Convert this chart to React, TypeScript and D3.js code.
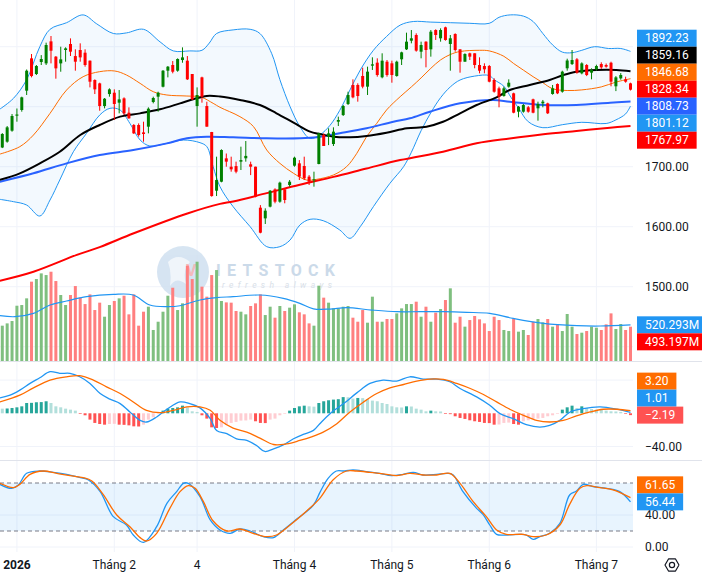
import React from "react";
import * as d3 from "d3";

// ── Dữ liệu phiên (130 phiên, cuối 2025 → giữa tháng 7/2026) ──────────
const opens = [
  1732, 1741.7, 1760, 1785, 1794.5, 1826.7, 1880.6, 1854.5, 1874.5, 1872.2,
  1908.9, 1883.4, 1872.2, 1894.5, 1904.5, 1884.4, 1894.5, 1890, 1876.7, 1844.5,
  1838.9, 1801.1, 1821.1, 1823.3, 1806.7, 1813.9, 1790, 1769.5, 1769.5, 1757.2,
  1766.7, 1807.8, 1816.7, 1833.3, 1860, 1869.5, 1860, 1877.8, 1876.7, 1854.5,
  1801.1, 1848.9, 1801.1, 1757.8, 1660, 1675, 1713.9, 1700, 1701, 1708.4,
  1714, 1704, 1700, 1631.7, 1613.9, 1633.4, 1662.2, 1641.7, 1662.2, 1669.5,
  1701.7, 1705.6, 1701.2, 1683.4, 1677.8, 1704.5, 1752.8, 1750, 1737.8, 1775,
  1786.1, 1804.5, 1836.2, 1836.2, 1851.2, 1833.4, 1868.4, 1873.4, 1849, 1875,
  1872.3, 1851.2, 1879, 1895.6, 1910, 1919.5, 1891.7, 1908.4, 1895.6, 1927.8,
  1914, 1932.3, 1904.5, 1921.2, 1895.6, 1875, 1889, 1889, 1869.5, 1867.8,
  1867.8, 1844.5, 1830.6, 1817.8, 1833.4, 1822.3, 1791.7, 1791.7, 1799, 1812.3,
  1797.3, 1805.6, 1805.6, 1821.2, 1837.8, 1825, 1864, 1871.1, 1878.9, 1855.6,
  1869.5, 1856.7, 1862.2, 1871.1, 1869.5, 1873.3, 1834, 1847.2, 1845.6, 1838.9,
];
const highs = [
  1756, 1767.8, 1787.8, 1797, 1816.7, 1862, 1887.8, 1869.5, 1886, 1906.7,
  1917.8, 1884.4, 1900, 1899, 1913.9, 1895.6, 1905.6, 1895.6, 1877, 1845.6,
  1840, 1814.5, 1830.6, 1828.9, 1827.8, 1815.6, 1798.9, 1771.1, 1772.2, 1775,
  1798.9, 1816.7, 1825, 1861.1, 1867.8, 1876.1, 1880.6, 1898.9, 1884.4, 1854.5,
  1832.2, 1850, 1808.3, 1758, 1716.7, 1729, 1722, 1716.7, 1708.4, 1733.4,
  1742.8, 1708.4, 1700, 1636, 1630.6, 1661, 1664, 1675, 1664, 1677.8,
  1716.7, 1711, 1716.7, 1686, 1691.7, 1756.7, 1755.6, 1764, 1765.6, 1783.4,
  1802.8, 1825, 1845.6, 1839, 1865, 1866.7, 1882.3, 1880.6, 1889, 1877.8,
  1876.7, 1876.7, 1891.7, 1923.4, 1927.8, 1922.3, 1908.4, 1909, 1927.8, 1929,
  1930.6, 1933.4, 1919.5, 1922.3, 1895.6, 1889, 1890, 1889, 1882.3, 1872.3,
  1869.5, 1847.3, 1833.4, 1833.4, 1845.6, 1823.4, 1801.2, 1804.5, 1801.2, 1813.4,
  1808.4, 1811.2, 1806.7, 1836.2, 1838.9, 1860, 1880, 1894.5, 1881, 1874,
  1871, 1864, 1870, 1874, 1872, 1875, 1851, 1856, 1850, 1840,
];
const lows = [
  1731, 1740, 1758.3, 1775, 1791.7, 1819.5, 1848.9, 1852.8, 1869.5, 1869.5,
  1872.2, 1846.7, 1858.3, 1875, 1884.5, 1860, 1875, 1866.7, 1832.2, 1821.1,
  1793.3, 1797.2, 1816.7, 1777.8, 1788.9, 1786.1, 1780, 1754.5, 1750, 1741.7,
  1755.6, 1805.6, 1791.7, 1832.2, 1848.9, 1855.6, 1858.3, 1873.3, 1844.5, 1811.1,
  1766.7, 1806.7, 1766.7, 1650, 1651.1, 1674, 1700, 1691.7, 1689, 1694.5,
  1708.4, 1686, 1648.9, 1589, 1604.5, 1632.2, 1639, 1640, 1639, 1666.7,
  1700, 1677.8, 1677.8, 1669.5, 1666.7, 1704, 1734.5, 1736, 1734.5, 1767.8,
  1784.5, 1802.8, 1814, 1808.4, 1830.6, 1819.5, 1861.2, 1850, 1847.3, 1850,
  1840, 1850, 1869.5, 1894.5, 1905.6, 1891.7, 1880.6, 1865.6, 1883.4, 1911.2,
  1908.4, 1910, 1860, 1891.7, 1856.7, 1875, 1877.8, 1864, 1855.6, 1855.6,
  1840.6, 1823.4, 1799, 1816.7, 1831.7, 1789, 1782.3, 1790, 1790, 1789,
  1776.7, 1799, 1787.8, 1820, 1821, 1823.4, 1860, 1869.5, 1855, 1854,
  1851, 1845.6, 1860, 1863, 1865, 1834, 1826, 1845, 1840, 1827,
];
const closes = [
  1754.5, 1765.6, 1784.5, 1787, 1815.6, 1860, 1851.1, 1867.8, 1879.5, 1902.8,
  1893.3, 1863.9, 1878.9, 1897.2, 1891.7, 1875, 1882.2, 1869.5, 1841.7, 1828.9,
  1801.1, 1813.3, 1828.9, 1804.5, 1812.2, 1788.9, 1780.6, 1755.6, 1752.8, 1754.5,
  1796.7, 1814.5, 1823.3, 1860, 1866.7, 1858.3, 1879.5, 1882.2, 1845.6, 1812.2,
  1819.5, 1816.7, 1766.7, 1651.1, 1677.8, 1727.8, 1708.4, 1695.6, 1691.7, 1711,
  1718, 1700, 1650, 1590, 1626.7, 1660, 1641.7, 1673.4, 1644.5, 1675,
  1715, 1683.4, 1680.6, 1675, 1679, 1755.6, 1734.5, 1755.6, 1758.4, 1777.8,
  1801.2, 1819.5, 1815.6, 1817.8, 1833.4, 1858.4, 1870.6, 1852.8, 1876.7, 1852.8,
  1852.8, 1875, 1890.6, 1908.4, 1914, 1893.4, 1902.8, 1894.5, 1925, 1919.5,
  1927.8, 1911.2, 1914, 1894.5, 1875, 1887.8, 1883.4, 1869.5, 1860, 1862.3,
  1841.7, 1825, 1816.7, 1830.6, 1840, 1790, 1800, 1802.8, 1791.7, 1790,
  1804.5, 1808.4, 1789, 1830.6, 1822.3, 1858.4, 1877, 1877.8, 1856.7, 1872.2,
  1852.8, 1861.1, 1867.8, 1865.6, 1866.7, 1841.7, 1848.9, 1852.8, 1841.7, 1828.34,
];
// khối lượng, triệu cp
const volumes = [
  508, 541, 575, 795, 805, 901, 1141, 1179, 1260, 1236,
  1284, 1150, 949, 805, 949, 1078, 911, 819, 958, 733,
  839, 637, 805, 863, 901, 939, 671, 958, 508, 709,
  781, 446, 565, 709, 939, 1054, 733, 829, 1371, 1179,
  1428, 1069, 925, 1236, 1308, 863, 843, 839, 719, 709,
  671, 791, 829, 958, 661, 781, 623, 791, 719, 767,
  815, 700, 671, 541, 508, 1083, 911, 839, 757, 757,
  781, 791, 623, 565, 733, 551, 925, 565, 565, 604,
  604, 685, 757, 819, 819, 853, 637, 781, 565, 695,
  747, 877, 1045, 551, 637, 494, 589, 647, 599, 541,
  431, 637, 589, 446, 431, 604, 422, 446, 374, 565,
  604, 556, 604, 494, 527, 431, 676, 494, 388, 407,
  431, 494, 479, 446, 527, 685, 460, 532, 446, 493.197,
];
const macdHist = [
  5.6, 5.8, 6.4, 7.2, 8.4, 12.4, 12.6, 13.3, 13.5, 14.5,
  12.4, 8.4, 7.2, 5.6, 4.4, 3.2, -0.8, -2.4, -7.6, -11.6,
  -12.9, -13.7, -12.9, -12.7, -13.7, -13.9, -14.5, -15.7, -15.9, -13.7,
  -7.6, -4.8, -0.8, 3.2, 5.6, 6.4, 7.2, 9.2, 7.2, 2.4,
  1.6, -2.4, -6.4, -16.9, -17.7, -16.9, -13.7, -11.6, -10.4, -8.8,
  -8.6, -7.6, -9.6, -11.6, -11.8, -7.6, -6.4, -2.4, -0.8, 3.2,
  6.4, 8.4, 9.2, 8.4, 8.0, 12.4, 14.5, 15.7, 16.5, 17.0,
  19.5, 19.3, 17.7, 18.5, 18.3, 17.3, 15.3, 14.5, 12.4, 11.2,
  8.4, 7.2, 7.0, 8.4, 8.2, 5.6, 4.4, 2.4, 3.2, 2.4,
  2.2, -0.8, -1.0, -3.6, -5.6, -6.8, -8.4, -9.6, -10.4, -11.6,
  -11.8, -13.7, -13.5, -11.6, -11.2, -12.9, -13.7, -9.6, -8.4, -7.6,
  -6.4, -5.6, -3.6, -2.4, -0.8, 4.4, 7.2, 9.2, 6.4, 8.4,
  6.4, 5.2, 4.4, 4.2, 3.2, 2.4, 2.2, 1.6, -0.8, -2.19,
];

type Pt = [number, number]; // [chỉ số phiên, giá trị]

const bbUpper: Pt[] = [
  [-0.5, 1796], [2.3, 1814], [5, 1845], [7.7, 1900], [9.8, 1929], [13.2, 1940], [16.6, 1953],
  [19.4, 1938], [22.8, 1922], [25.5, 1923], [29, 1929], [32.4, 1908], [35.1, 1893], [38.5, 1893],
  [41, 1894], [42.5, 1906], [44, 1922], [47.4, 1928], [50.9, 1929], [52.9, 1922], [55.3, 1889],
  [57, 1845], [59.1, 1800], [61.1, 1767], [63.2, 1747], [65.2, 1753], [67.3, 1769], [69.3, 1794],
  [71.4, 1828], [73.5, 1861], [76.2, 1894], [78.9, 1917], [81.7, 1936], [84.4, 1942], [88, 1941],
  [92, 1940], [96, 1939], [100, 1939], [102, 1949], [104.3, 1953], [107, 1951], [109, 1942],
  [111, 1922], [113, 1903], [115, 1891], [117, 1890], [119, 1894], [121.6, 1900], [124.5, 1897],
  [127, 1897], [129, 1892.23],
];
const bbMiddle: Pt[] = [
  [-0.5, 1721], [3.6, 1733.4], [6.4, 1752.8], [9.8, 1788.9], [13.2, 1827.8], [16.6, 1850],
  [20, 1858.4], [23.1, 1859.5], [25.5, 1852.8], [28.3, 1838.9], [31, 1825], [33.8, 1819.5],
  [37.9, 1817.8], [40.8, 1816], [43.3, 1805.6], [44.7, 1799], [48.8, 1783.4], [51.6, 1766.7],
  [54.3, 1727.8], [57, 1705.6], [59.8, 1689], [62.5, 1677.8], [64.6, 1679], [68, 1686.2],
  [70.7, 1700], [72.8, 1722.3], [74.8, 1750], [76.9, 1772.3], [78.9, 1794.5], [81.7, 1816.7],
  [84, 1833], [86, 1848], [88, 1864], [90, 1878], [92, 1887], [94, 1892], [98, 1894], [100, 1893],
  [103, 1884], [105, 1872], [107, 1861], [109, 1850], [111, 1840], [113, 1830], [116, 1827],
  [119, 1828], [123, 1833], [126, 1841], [129, 1846.68],
];
const bbLower: Pt[] = [
  [-0.5, 1645.6], [2.3, 1641.7], [5, 1636.1], [7.7, 1617.8], [9.8, 1644.5], [11.8, 1677.8],
  [14.6, 1725], [17.3, 1755.6], [20, 1786.1], [22.1, 1797.3], [24.2, 1794.5], [26.2, 1772.2],
  [28.3, 1744.5], [30.3, 1734.5], [33.8, 1738.9], [37.2, 1744.5], [40.6, 1740], [42, 1733.4],
  [43.3, 1700], [44.7, 1666.7], [47.4, 1633.4], [50.9, 1600], [54.3, 1566.7], [57, 1566.7],
  [59.1, 1577.8], [61.1, 1602.8], [63.2, 1612.3], [65.9, 1610], [69.3, 1594.5], [71.4, 1580.6],
  [73.5, 1600], [76.2, 1633.4], [79.6, 1672.3], [82.4, 1700], [84, 1724], [86, 1760], [88, 1790],
  [90, 1815], [92, 1833], [94, 1844.5], [97, 1851], [100, 1852], [101, 1845], [103, 1834],
  [104.5, 1815], [106, 1798], [108, 1775], [111, 1765], [115, 1770], [119, 1774], [124, 1772],
  [126, 1778], [128, 1788], [129, 1801.12],
];
const maBlack: Pt[] = [
  [-0.5, 1678], [3.6, 1689], [7.7, 1705.6], [11.8, 1725], [16, 1752.8], [20, 1769.5],
  [24.2, 1783.4], [28.3, 1788.9], [32.4, 1795.6], [36.5, 1805.6], [39.2, 1812.3], [42, 1818],
  [44.7, 1817], [48.8, 1811.2], [52.9, 1802.8], [56.3, 1789], [59.8, 1773.4], [63.2, 1758.4],
  [65.2, 1754.5], [68, 1750], [71.4, 1749], [74.8, 1751.2], [78.9, 1756.7], [83.1, 1763.9],
  [87.1, 1766.7], [90.5, 1775], [94, 1789], [97.4, 1802.8], [101.5, 1815.6], [104.2, 1827.8],
  [108.3, 1836.2], [112.4, 1844.5], [115.2, 1852.8], [117.9, 1858.4], [122, 1861.2],
  [126.1, 1861.2], [129, 1859.16],
];
const maBlue: Pt[] = [
  [-0.5, 1675], [6.4, 1689], [13.2, 1705.6], [20, 1719.5], [26.9, 1727.8], [33.8, 1738.9],
  [37.9, 1747.3], [42, 1750], [47.4, 1749], [54.3, 1747.3], [61.1, 1747.3], [64.6, 1749],
  [69.3, 1755.6], [74.8, 1764], [80.3, 1775], [83.7, 1780.6], [87.8, 1791.7], [94, 1805.6],
  [100.8, 1811.2], [104.2, 1808.4], [111.1, 1802.8], [117.9, 1802.8], [124.8, 1806.7],
  [129, 1808.73],
];
const maRed: Pt[] = [
  [-0.5, 1510], [6.4, 1525], [15.3, 1553], [20, 1566], [27, 1589], [38, 1622], [44.7, 1638],
  [47.4, 1642], [54.3, 1656], [61.1, 1670], [68, 1683], [74.8, 1697], [81.7, 1711],
  [90.5, 1725], [97.4, 1739], [104.2, 1747], [111.1, 1754], [117.9, 1759.5], [124.8, 1765],
  [129, 1767.97],
];
const volumeMA: Pt[] = [
  [-0.5, 652], [2.6, 637], [6.4, 685], [9.8, 805], [13.2, 863], [17.3, 925], [22.8, 958],
  [26.9, 949], [30.3, 805], [33.8, 781], [36.5, 795], [40.6, 877], [44, 911], [47.4, 925],
  [52.9, 949], [57.7, 901], [61.1, 829], [63.9, 750], [67.3, 747], [70.7, 767], [75.9, 733],
  [81, 709], [85.8, 709], [90.6, 709], [95.4, 700], [100.1, 685], [104.9, 613], [111.1, 541],
  [118, 508], [122.8, 503], [129, 520.293],
];
const macdLine: Pt[] = [
  [-0.5, 18.6], [1.6, 21.8], [3.6, 27.9], [5.7, 36], [7.7, 42.8], [9.8, 50.1], [11.8, 48.1],
  [13.9, 48.1], [15.9, 44], [18, 36], [20.1, 23.8], [22.1, 17], [24.2, 11.7], [26.2, 1.6],
  [28.3, -8.5], [29.6, -10.5], [31.7, -4.4], [33.8, 4.9], [36.5, 13.7], [38.5, 11.7],
  [40.6, 6.5], [42.7, -6.5], [44, -20.6], [46.1, -24.6], [48.1, -30.7], [50.2, -32.7],
  [52.2, -38.8], [53.9, -46], [55.7, -42.8], [57.7, -38], [59.8, -30.7], [61.8, -25.4],
  [63.9, -20.6], [65.2, -12.5], [67.3, -0.4], [70.1, 11.7], [72.8, 24.6], [75.5, 36],
  [78.2, 40], [81, 38.8], [83.7, 44], [86.4, 41.2], [89.2, 41.2], [91.9, 38], [94, 29.9],
  [97.4, 19.8], [100.1, 9.7], [102.2, -0.4], [104.9, -6.5], [107.6, -13.7], [110.4, -16.6],
  [112.4, -14.5], [114.5, -8.5], [116.6, 1.6], [119.3, 5.7], [122.8, 7.7], [126.2, 4.9],
  [129, 1.01],
];
const macdSignal: Pt[] = [
  [-0.5, 13.7], [3.6, 21.8], [6.4, 30.7], [9.8, 40], [13.2, 44], [15.9, 45.3], [18.7, 40],
  [21.4, 31.9], [24.2, 23.8], [26.9, 13.7], [29.6, 3.6], [32.4, 0.8], [35.1, 3.6], [37.9, 7.7],
  [40.6, 7.7], [42.7, 3.6], [44.7, -8.5], [47.4, -17.8], [50.2, -22.6], [52.9, -29.9],
  [55.7, -37.6], [58.4, -36.8], [61.1, -32.7], [63.5, -28.3], [65.9, -22.6], [68.7, -12.5],
  [71.4, 1.6], [74.2, 13.7], [76.9, 23.8], [79.6, 30.7], [82.4, 34.7], [85.1, 38.8],
  [87.8, 41.2], [90.6, 40.8], [93.3, 36], [96.1, 29.9], [98.8, 22.6], [101.5, 13.7],
  [104.2, 4.9], [107, -2.4], [109.7, -8.5], [112.4, -10.5], [115.2, -8.5], [117.9, -3.2],
  [120.7, 1.6], [123.4, 4.9], [126.2, 4.9], [129, 3.2],
];
const stochK: Pt[] = [
  [-0.5, 78.3], [1.9, 73.3], [3.3, 77.5], [5, 92.1], [7.7, 95], [10.5, 93.3], [13.2, 90.8],
  [16, 86.7], [17.7, 83.8], [20.1, 69.2], [22.8, 37.9], [25.5, 27.5], [26.9, 15], [29, 5.8],
  [31.7, 25.4], [33.8, 54.6], [35.8, 69.2], [37.2, 79.6], [38.2, 79.6], [40.6, 62.9],
  [42.7, 33.8], [44.7, 21.3], [46.8, 17.1], [48.8, 22.5], [50.9, 20], [53.6, 12.9],
  [55.7, 11.7], [57.7, 21.3], [59.8, 31.7], [63.9, 52.5], [65.2, 68], [66.9, 85.8], [68.6, 95],
  [70.3, 95], [72, 96.3], [74.8, 94.2], [77.5, 92.1], [79.9, 89.2], [82.3, 90.8], [84.4, 93.3],
  [86.4, 90], [89.2, 90.8], [91.5, 92.1], [92.6, 90], [94.6, 69.2], [97.4, 48.3], [98.7, 40.8],
  [100.1, 27.5], [101.5, 15.8], [103.5, 15], [106.3, 15.8], [107.6, 15], [109, 9.6],
  [110.4, 12.9], [112.4, 17.1], [114.5, 29.6], [116.5, 65], [117.9, 70], [119.3, 78.3],
  [121.3, 75.4], [124.1, 73.3], [126.8, 69.2], [129, 56.44],
];
const stochD: Pt[] = [
  [-0.5, 79.6], [2.3, 74.2], [3.6, 78.3], [5.7, 90.8], [8.4, 95], [11.2, 92.1], [13.9, 89.2],
  [16.6, 86.7], [18.4, 82.5], [20.7, 65.8], [23.5, 40], [26.2, 25.4], [28.3, 11.7], [29.6, 7.5],
  [31.7, 17.1], [34.4, 48.3], [36.5, 69.2], [38.2, 76.7], [39.6, 73.3], [41.3, 56.7],
  [43.3, 32.5], [46.1, 20], [48.8, 22.5], [51.5, 17.1], [54.3, 12.9], [56.3, 15], [59.1, 27.5],
  [62.5, 45], [65.2, 60.8], [67.9, 83.8], [70.7, 95], [72.7, 95], [75.5, 93.3], [78.9, 90.8],
  [80.9, 89.2], [83.7, 92.1], [86.4, 90], [89.2, 90], [91.9, 92.1], [94, 79.6], [96.7, 56.7],
  [99.4, 37.9], [101.5, 21.3], [103.5, 15.8], [107, 15.8], [109, 12.9], [111.7, 15],
  [114.5, 27.5], [116.5, 53.3], [118.6, 73.3], [120, 76.7], [122.7, 74.2], [125.4, 71.3],
  [129, 61.65],
];

const timeTicks = [3, 23, 40, 60, 80, 100, 122];
const timeLabels = ["2026", "Tháng 2", "4", "Tháng 4", "Tháng 5", "Tháng 6", "Tháng 7"];
const priceTicks = [1400, 1500, 1600, 1700, 1800, 1900];
const macdTicks = [-40, 40];
const stochTicks = [0, 40, 80];
const stochBands = [20, 80];

// ── helpers ──────────────────────────────────────────────────────
const FONT = "Roboto, 'Noto Sans', sans-serif";
let measureCtx: CanvasRenderingContext2D | null = null;
function textWidth(s: string) {
  if (!measureCtx) measureCtx = document.createElement("canvas").getContext("2d");
  if (!measureCtx) return s.length * 6.7;
  measureCtx.font = "12px Roboto";
  return measureCtx.measureText(s).width;
}
const fmt = (v: number, d = 2) => (v < 0 ? "\u2212" + Math.abs(v).toFixed(d) : v.toFixed(d));

type Lab = { text: string; color: string; y: number };
function stackLabels(items: Lab[], h: number, mode: "center" | "top" | "bottom"): Lab[] {
  const s = [...items].sort((a, b) => a.y - b.y);
  if (mode === "top") {
    for (let i = 1; i < s.length; i++) s[i] = { ...s[i], y: Math.max(s[i].y, s[i - 1].y + h) };
    return s;
  }
  if (mode === "bottom") {
    for (let i = s.length - 2; i >= 0; i--) s[i] = { ...s[i], y: Math.min(s[i].y, s[i + 1].y - h) };
    return s;
  }
  let groups = s.map((it) => ({ items: [it], c: it.y }));
  let merged = true;
  while (merged) {
    merged = false;
    for (let i = 0; i < groups.length - 1; i++) {
      const a = groups[i], b = groups[i + 1];
      const aBottom = a.c + ((a.items.length - 1) * h) / 2;
      const bTop = b.c - ((b.items.length - 1) * h) / 2;
      if (bTop - aBottom < h) {
        const its = [...a.items, ...b.items];
        groups.splice(i, 2, { items: its, c: d3.mean(its, (d) => d.y)! });
        merged = true;
        break;
      }
    }
  }
  return groups.flatMap((g) =>
    g.items.map((it, k) => ({ ...it, y: g.c + (k - (g.items.length - 1) / 2) * h }))
  );
}

const last = (a: Pt[]) => a[a.length - 1][1];

export default function App() {
  const W = 702, H = 576;
  const plotRight = 633;
  const N = closes.length;

  const x = d3.scaleLinear().domain([0, N - 1]).range([2.3, 630.5]);
  const yP = d3.scaleLinear().domain([1500, 1900]).range([286.7, 46.7]);
  const yV = d3.scaleLinear().domain([0, 1500]).range([361, 256.7]);
  const yM = d3.scaleLinear().domain([-40, 40]).range([446.5, 380.1]);
  const yS = d3.scaleLinear().domain([0, 100]).range([547, 467]);

  const curve = d3.curveCatmullRom.alpha(0.5);
  const lineP = d3.line<Pt>().x((d) => x(d[0])).y((d) => yP(d[1])).curve(curve);
  const lineV = d3.line<Pt>().x((d) => x(d[0])).y((d) => yV(d[1])).curve(curve);
  const lineM = d3.line<Pt>().x((d) => x(d[0])).y((d) => yM(d[1])).curve(curve);
  const lineS = d3.line<Pt>().x((d) => x(d[0])).y((d) => yS(d[1])).curve(curve);

  const bbRing = lineP(bbUpper)! + "L" + lineP([...bbLower].reverse())!.slice(1) + "Z";

  const gridColor = "#f0f3fa";
  const sepColor = "#e0e3eb";
  const green = "#008000", red = "#ff0000";

  const priceLabels = stackLabels(
    [
      { text: last(bbUpper).toFixed(2), color: "#2196F3", y: yP(last(bbUpper)) },
      { text: last(maBlack).toFixed(2), color: "#000000", y: yP(last(maBlack)) },
      { text: last(bbMiddle).toFixed(2), color: "#FF6D00", y: yP(last(bbMiddle)) },
      { text: closes[N - 1].toFixed(2), color: "#FF0000", y: yP(closes[N - 1]) },
      { text: last(maBlue).toFixed(2), color: "#2962FF", y: yP(last(maBlue)) },
      { text: last(bbLower).toFixed(2), color: "#2196F3", y: yP(last(bbLower)) },
      { text: last(maRed).toFixed(2), color: "#FF0000", y: yP(last(maRed)) },
    ],
    17,
    "center"
  );
  const volLabels = stackLabels(
    [
      { text: last(volumeMA).toFixed(3) + "M", color: "#2196F3", y: yV(last(volumeMA)) },
      { text: volumes[N - 1].toFixed(3) + "M", color: "#FF0000", y: yV(volumes[N - 1]) },
    ],
    17,
    "top"
  );
  const macdLabels = stackLabels(
    [
      { text: fmt(last(macdSignal)), color: "#FF6D00", y: yM(last(macdSignal)) },
      { text: fmt(last(macdLine)), color: "#2196F3", y: yM(last(macdLine)) },
      { text: fmt(macdHist[N - 1]), color: "#FF5252", y: yM(macdHist[N - 1]) },
    ],
    17,
    "bottom"
  );
  const stochLabels = stackLabels(
    [
      { text: fmt(last(stochD)), color: "#FF6D00", y: yS(last(stochD)) },
      { text: fmt(last(stochK)), color: "#2196F3", y: yS(last(stochK)) },
    ],
    17,
    "bottom"
  );
  const allLabels = [...priceLabels, ...volLabels, ...macdLabels, ...stochLabels];

  // nhãn trục bị nhãn màu che thì ẩn đi, như trên TradingView
  const axisTicks = [
    ...priceTicks.map((v) => ({ y: yP(v), t: v.toFixed(2) })),
    ...macdTicks.map((v) => ({ y: yM(v), t: fmt(v) })),
    ...stochTicks.map((v) => ({ y: yS(v), t: fmt(v) })),
  ].filter((t) => allLabels.every((l) => Math.abs(l.y - t.y) > 12.5));

  const histColor = (i: number) => {
    const v = macdHist[i];
    const prev = i > 0 ? macdHist[i - 1] : v >= 0 ? Infinity : -Infinity;
    if (v >= 0) return v >= prev ? "#26A69A" : "#B2DFDB";
    return v <= prev ? "#FF5252" : "#FFCDD2";
  };

  const gearPts = d3.range(7).map((k) => [672 + 7 * Math.cos((k * Math.PI) / 3), 565 + 7 * Math.sin((k * Math.PI) / 3)] as [number, number]);

  const renderLabel = (l: Lab, i: number) => {
    const w = textWidth(l.text) + 16;
    return (
      <g key={l.text + i}>
        <rect x={637} y={l.y - 8.5} width={w} height={17} fill={l.color} />
        <text x={645} y={l.y} dominantBaseline="central" fill="#fff" fontSize={12} fontFamily={FONT}>
          {l.text}
        </text>
      </g>
    );
  };

  return (
    <div style={{ position: "absolute", left: 0, top: 0, width: W, height: H, background: "#fff" }}>
      <svg width={W} height={H} viewBox={`0 0 ${W} ${H}`} style={{ display: "block", fontFamily: FONT }}>
        <defs>
          <clipPath id="clipPrice"><rect x={0} y={0} width={plotRight} height={361} /></clipPath>
          <clipPath id="clipMacd"><rect x={0} y={362} width={plotRight} height={98} /></clipPath>
          <clipPath id="clipStoch"><rect x={0} y={461} width={plotRight} height={92} /></clipPath>
        </defs>
        <rect width={W} height={H} fill="#fff" />

        {/* lưới */}
        {timeTicks.map((t) => (
          <line key={"vg" + t} x1={x(t)} x2={x(t)} y1={0} y2={552} stroke={gridColor} />
        ))}
        <g clipPath="url(#clipPrice)">
          {priceTicks.map((v) => (
            <line key={"hg" + v} x1={0} x2={plotRight} y1={yP(v)} y2={yP(v)} stroke={gridColor} />
          ))}
        </g>
        {macdTicks.map((v) => (
          <line key={"mg" + v} x1={0} x2={plotRight} y1={yM(v)} y2={yM(v)} stroke={gridColor} />
        ))}
        {[0, 40].map((v) => (
          <line key={"sg" + v} x1={0} x2={plotRight} y1={yS(v)} y2={yS(v)} stroke={gridColor} />
        ))}

        {/* watermark */}
        <g opacity={0.85}>
          <circle cx={183} cy={272} r={26} fill="#d0e0f0" />
          <path d="M168,262 Q178,252 190,262 Q182,270 186,284 Q176,276 170,286 Q172,272 168,262Z" fill="#eef4fa" />
          <text x={186} y={276} fontSize={16} fontWeight={700} fill="#f2aeb0" fontFamily={FONT}>V</text>
          <text x={216} y={276} fontSize={16} fontWeight={700} fill="#c3d4e6" fontFamily={FONT} textLength={119} lengthAdjust="spacing">IETSTOCK</text>
          <text x={222} y={288} fontSize={8.5} fontStyle="italic" fill="#d3dbe5" fontFamily={FONT} textLength={110} lengthAdjust="spacing">refresh always</text>
        </g>

        {/* giá + khối lượng */}
        <g clipPath="url(#clipPrice)">
          <path d={bbRing} fill="rgba(33,150,243,0.055)" />
          {volumes.map((v, i) => (
            <rect key={"v" + i} x={x(i) - 1.5} width={3} y={yV(v)} height={yV(0) - yV(v)}
              fill={closes[i] >= opens[i] ? "#7fbf7f" : "#ff7f7f"} />
          ))}
          <path d={lineV(volumeMA)!} fill="none" stroke="#2196F3" strokeWidth={1.2} />
          <path d={lineP(bbUpper)!} fill="none" stroke="#2196F3" strokeWidth={1} />
          <path d={lineP(bbLower)!} fill="none" stroke="#2196F3" strokeWidth={1} />
          <path d={lineP(bbMiddle)!} fill="none" stroke="#FF6D00" strokeWidth={1} />
          <path d={lineP(maRed)!} fill="none" stroke="#FF0000" strokeWidth={2} />
          <path d={lineP(maBlue)!} fill="none" stroke="#2962FF" strokeWidth={2} />
          <path d={lineP(maBlack)!} fill="none" stroke="#000000" strokeWidth={2} />
          {closes.map((c, i) => {
            const o = opens[i];
            const col = c >= o ? green : red;
            const top = yP(Math.max(o, c));
            const h = Math.max(1, Math.abs(yP(o) - yP(c)));
            return (
              <g key={"c" + i}>
                <line x1={x(i)} x2={x(i)} y1={yP(highs[i])} y2={yP(lows[i])} stroke={col} strokeWidth={1} />
                <rect x={x(i) - 1.5} width={3} y={top} height={h} fill={col} />
              </g>
            );
          })}
        </g>

        {/* MACD */}
        <g clipPath="url(#clipMacd)">
          {macdHist.map((v, i) => (
            <rect key={"h" + i} x={x(i) - 1.5} width={3} y={Math.min(yM(0), yM(v))}
              height={Math.abs(yM(v) - yM(0))} fill={histColor(i)} />
          ))}
          <path d={lineM(macdLine)!} fill="none" stroke="#2196F3" strokeWidth={1.3} />
          <path d={lineM(macdSignal)!} fill="none" stroke="#FF6D00" strokeWidth={1.3} />
        </g>

        {/* Stochastic */}
        <g clipPath="url(#clipStoch)">
          <rect x={0} width={plotRight} y={yS(stochBands[1])} height={yS(stochBands[0]) - yS(stochBands[1])}
            fill="rgba(33,150,243,0.1)" />
          {stochBands.map((v) => (
            <line key={"sb" + v} x1={0} x2={plotRight} y1={yS(v)} y2={yS(v)} stroke="#787B86"
              strokeWidth={1} strokeDasharray="4,3" />
          ))}
          <path d={lineS(stochK)!} fill="none" stroke="#2196F3" strokeWidth={1.3} />
          <path d={lineS(stochD)!} fill="none" stroke="#FF6D00" strokeWidth={1.3} />
        </g>

        {/* phân cách pane */}
        <line x1={0} x2={W} y1={361.5} y2={361.5} stroke={sepColor} />
        <line x1={0} x2={W} y1={460.5} y2={460.5} stroke={sepColor} />

        {/* trục giá */}
        {axisTicks.map((t, i) => (
          <text key={"at" + i} x={645} y={t.y} dominantBaseline="central" fontSize={12} fill="#131722" fontFamily={FONT}>
            {t.t}
          </text>
        ))}
        {allLabels.map(renderLabel)}

        {/* trục thời gian */}
        {timeTicks.map((t, i) => (
          <text key={"tl" + t} x={x(t)} y={565} textAnchor="middle" dominantBaseline="central" fontSize={12}
            fill="#131722" fontWeight={i === 0 ? 700 : 400} fontFamily={FONT}>
            {timeLabels[i]}
          </text>
        ))}
        <path d={d3.line()(gearPts)!} fill="none" stroke="#131722" strokeWidth={1.2} strokeLinejoin="round" />
        <circle cx={672} cy={565} r={2.6} fill="none" stroke="#131722" strokeWidth={1.2} />
      </svg>
    </div>
  );
}
